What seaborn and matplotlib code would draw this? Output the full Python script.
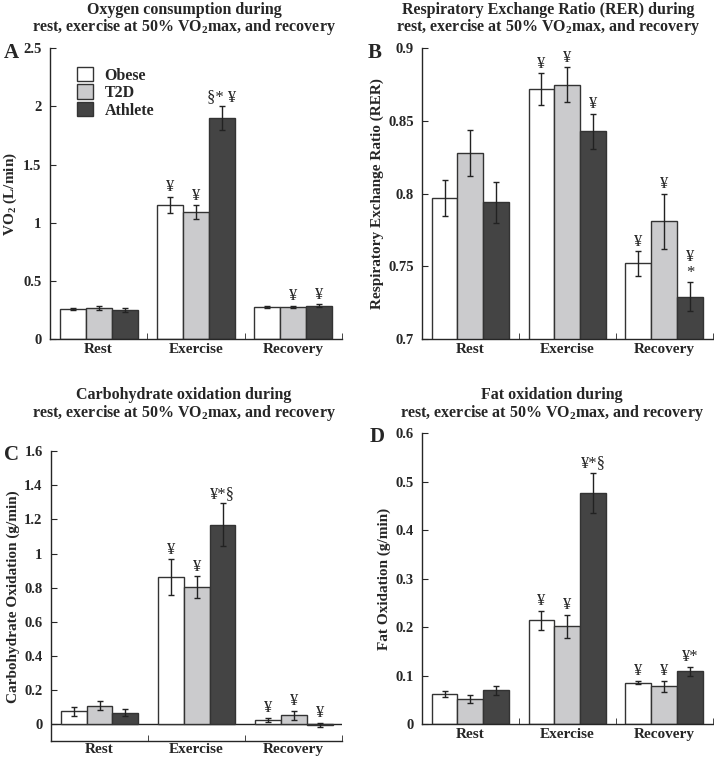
import numpy as np
import pandas as pd
import matplotlib
matplotlib.use("Agg")
import matplotlib.pyplot as plt
from matplotlib.ticker import FuncFormatter
import seaborn as sns

# Groups and phases
phases = ["Rest", "Exercise", "Recovery"]
groups = ["Obese", "T2D", "Athlete"]

# A - oxygen consumption (L/min), rows = group, cols = phase
vo2_mean = [[0.26, 1.155, 0.275],
            [0.265, 1.09, 0.275],
            [0.25, 1.90, 0.285]]
vo2_err = [[0.010, 0.070, 0.012],
           [0.015, 0.060, 0.012],
           [0.014, 0.100, 0.012]]
vo2_marks = [["", "¥", ""],
             ["", "¥", "¥"],
             ["", "§* ¥", "¥"]]

# B - RER
rer_mean = [[0.797, 0.872, 0.752],
            [0.828, 0.875, 0.781],
            [0.794, 0.843, 0.729]]
rer_err = [[0.0125, 0.011, 0.0085],
           [0.016, 0.012, 0.019],
           [0.014, 0.012, 0.010]]
rer_marks = [["", "¥", "¥"],
             ["", "¥", "¥"],
             ["", "¥", "¥\n*"]]

# C - carbohydrate oxidation (g/min)
cho_mean = [[0.076, 0.862, 0.025],
            [0.109, 0.802, 0.053],
            [0.068, 1.168, -0.003]]
cho_err = [[0.027, 0.105, 0.014],
           [0.025, 0.064, 0.027],
           [0.020, 0.126, 0.011]]
cho_marks = [["", "¥", "¥"],
             ["", "¥", "¥"],
             ["", "¥*§", "¥"]]

# D - fat oxidation (g/min)
fat_mean = [[0.0625, 0.214, 0.0852],
            [0.0515, 0.2015, 0.0777],
            [0.0694, 0.4763, 0.1086]]
fat_err = [[0.006, 0.019, 0.003],
           [0.009, 0.024, 0.012],
           [0.010, 0.041, 0.010]]
fat_marks = [["", "¥", "¥"],
             ["", "¥", "¥"],
             ["", "¥*§", "¥*"]]

colors = ["#ffffff", "#cbcbcd", "#444444"]

sns.set_style("ticks")
plt.rcParams["font.family"] = ["Liberation Serif", "DejaVu Serif"]
plt.rcParams["mathtext.fontset"] = "custom"
plt.rcParams["mathtext.rm"] = "Liberation Serif"
plt.rcParams["mathtext.bf"] = "Liberation Serif:bold"
plt.rcParams["axes.linewidth"] = 1.0


def to_frame(mean):
    rows = []
    for g, grp in enumerate(groups):
        for p, ph in enumerate(phases):
            rows.append({"phase": ph, "group": grp, "value": mean[g][p]})
    return pd.DataFrame(rows)


def draw_panel(ax, mean, err, marks, ylim, yticks, ylabel, mark_off, xpad=3):
    df = to_frame(mean)
    sns.barplot(data=df, x="phase", y="value", hue="group", order=phases,
                hue_order=groups, palette=colors, edgecolor="#333333",
                linewidth=1.0, errorbar=None, width=0.8, saturation=1,
                legend=False, ax=ax)
    bars = list(ax.containers)
    for g, cont in enumerate(bars):
        for p, bar in enumerate(cont.patches):
            x = bar.get_x() + bar.get_width() / 2
            ax.errorbar(x, mean[g][p], yerr=err[g][p], fmt="none",
                        ecolor="#222222", elinewidth=1.0, capsize=2.5,
                        capthick=1.0)
            if marks[g][p]:
                ax.text(x, mean[g][p] + err[g][p] + mark_off, marks[g][p],
                        ha="center", va="bottom", fontsize=12,
                        linespacing=1.0)
    ax.set_xlim(-0.5, 2.5)
    ax.set_ylim(*ylim)
    ax.set_yticks(yticks)
    ax.yaxis.set_major_formatter(FuncFormatter(lambda v, pos: "%g" % round(v, 3)))
    ax.set_xticks([0.5, 1.5, 2.5], minor=True)
    ax.tick_params(axis="x", which="major", length=0, labelsize=11, pad=xpad)
    ax.tick_params(axis="x", which="minor", direction="in", length=4)
    ax.tick_params(axis="y", direction="in", length=4, labelsize=10.5, pad=6)
    for lab in ax.get_xticklabels() + ax.get_yticklabels():
        lab.set_fontweight("bold")
    ax.set_xlabel("")
    ax.set_ylabel(ylabel, fontsize=11, fontweight="bold", labelpad=3)
    sns.despine(ax=ax)


fig = plt.figure(figsize=(7.14, 7.61), dpi=100)
axA = fig.add_axes([0.070, 0.5545, 0.409, 0.382])
axB = fig.add_axes([0.591, 0.5545, 0.407, 0.382])
axC = fig.add_axes([0.0714, 0.026, 0.408, 0.381])
axD = fig.add_axes([0.591, 0.0486, 0.407, 0.382])

draw_panel(axA, vo2_mean, vo2_err, vo2_marks, (0, 2.5),
           np.arange(0, 2.51, 0.5), "VO$_\\mathbf{2}$ (L/min)", 0.01)
draw_panel(axB, rer_mean, rer_err, rer_marks, (0.7, 0.9),
           np.arange(0.7, 0.901, 0.05), "Respiratory Exchange Ratio (RER)", 0.001)
draw_panel(axC, cho_mean, cho_err, cho_marks, (-0.1, 1.6),
           np.arange(0, 1.61, 0.2), "Carbohydrate Oxidation (g/min)", 0.01,
           xpad=1.5)
draw_panel(axD, fat_mean, fat_err, fat_marks, (0, 0.6),
           np.arange(0, 0.61, 0.1), "Fat Oxidation (g/min)", 0.004)
axC.axhline(0, color="#222222", lw=1.0, zorder=0.5)

# legend in panel A
handles = [plt.Rectangle((0, 0), 1, 1, facecolor=c, edgecolor="#333333", lw=1.0)
           for c in colors]
axA.legend(handles, groups, loc="upper left", bbox_to_anchor=(0.045, 0.985),
           frameon=False, handlelength=1.0, handleheight=1.0,
           labelspacing=0.05, handletextpad=0.7,
           prop={"weight": "bold", "size": 11.5})

# titles
tkw = dict(ha="center", va="center", fontsize=11.5, fontweight="bold")
fig.text(184 / 714, 1 - 10 / 761, "Oxygen consumption during", **tkw)
fig.text(184 / 714, 1 - 27 / 761,
         "rest, exercise at 50% VO$_\\mathbf{2}$max, and recovery", **tkw)
fig.text(548 / 714, 1 - 10 / 761, "Respiratory Exchange Ratio (RER) during", **tkw)
fig.text(548 / 714, 1 - 27 / 761,
         "rest, exercise at 50% VO$_\\mathbf{2}$max, and recovery", **tkw)
fig.text(184 / 714, 1 - 395 / 761, "Carbohydrate oxidation during", **tkw)
fig.text(184 / 714, 1 - 413 / 761,
         "rest, exercise at 50% VO$_\\mathbf{2}$max, and recovery", **tkw)
fig.text(552 / 714, 1 - 395 / 761, "Fat oxidation during", **tkw)
fig.text(552 / 714, 1 - 413 / 761,
         "rest, exercise at 50% VO$_\\mathbf{2}$max, and recovery", **tkw)

# panel letters
lkw = dict(ha="left", va="center", fontsize=15, fontweight="bold")
fig.text(4 / 714, 1 - 53 / 761, "A", **lkw)
fig.text(368 / 714, 1 - 53 / 761, "B", **lkw)
fig.text(4 / 714, 1 - 455 / 761, "C", **lkw)
fig.text(370 / 714, 1 - 437 / 761, "D", **lkw)

fig.savefig("out.png", dpi=100)
